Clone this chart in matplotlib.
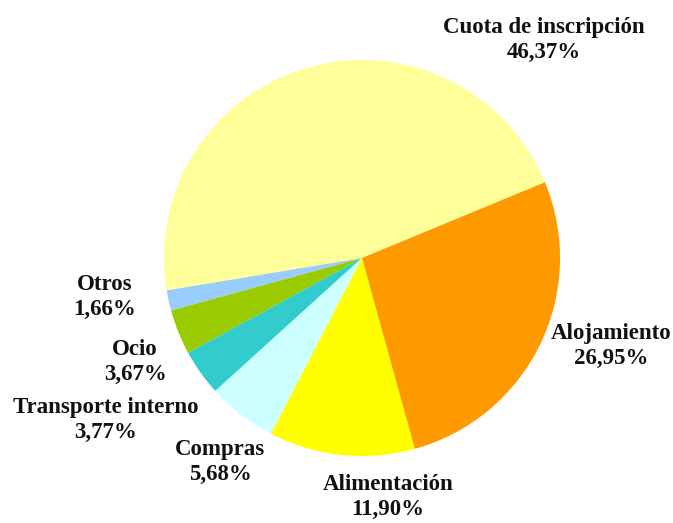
import matplotlib
matplotlib.use("Agg")
import matplotlib.pyplot as plt

# gasto por partida (%)
categorias = ["Cuota de inscripción", "Otros", "Ocio", "Transporte interno",
              "Compras", "Alimentación", "Alojamiento"]
porcentajes = [46.37, 1.66, 3.67, 3.77, 5.68, 11.90, 26.95]
colores = ["#FFFF99", "#99CCFF", "#99CC00", "#33CCCC",
           "#CCFFFF", "#FFFF00", "#FF9900"]

# posiciones de etiqueta (radio 1 = borde del pastel)
pos_etiquetas = [(0.919, 1.10), (-1.298, -0.197), (-1.146, -0.525),
                 (-1.293, -0.818), (-0.717, -1.03), (0.131, -1.207),
                 (1.258, -0.444)]

fig = plt.figure(figsize=(6.73, 5.23), dpi=100)
ax = fig.add_axes([0, 0, 1, 1])
ax.pie(porcentajes, colors=colores, startangle=22.5, counterclock=True,
       radius=1, center=(0, 0))

for cat, val, (x, y) in zip(categorias, porcentajes, pos_etiquetas):
    txt = cat + "\n" + f"{val:.2f}".replace(".", ",") + "%"
    ax.text(x, y, txt, ha="center", va="center", fontsize=16.5,
            fontweight="bold", family="Liberation Serif", color="#111111",
            linespacing=1.28)

# centro (362,258) y radio 198 px en la imagen de 673x523
cx, cy, r = 362, 258, 198
ax.set_xlim(-cx / r, (673 - cx) / r)
ax.set_ylim(-(523 - cy) / r, cy / r)
ax.set_aspect("equal")
ax.axis("off")

fig.savefig("out.png", dpi=100)
